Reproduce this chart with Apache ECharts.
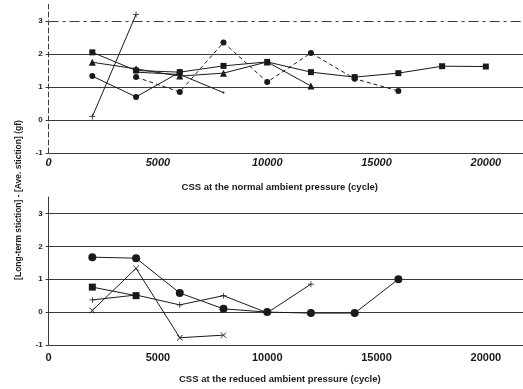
<!DOCTYPE html>
<html>
<head>
<meta charset="utf-8">
<script src="https://cdn.jsdelivr.net/npm/echarts@6/dist/echarts.min.js"></script>
<style>
  html, body {margin: 0; padding: 0; background: #fff;}
  #chart {width: 523px; height: 389px;}
</style>
</head>
<body>
<div id="chart"></div>
<script>
// values, [cycle, stiction diff (gf)]
const normalPlus = [[2000, 0.1], [4000, 3.2]];
const normalSquare = [[2000, 2.05], [4000, 1.5], [6000, 1.45], [8000, 1.64], [10000, 1.76], [12000, 1.45], [14000, 1.3], [16000, 1.42], [18000, 1.63], [20000, 1.62]];
const normalTriangle = [[2000, 1.75], [4000, 1.55], [6000, 1.33], [8000, 1.42], [10000, 1.76], [12000, 1.03]];
const normalCircle = [[2000, 1.33], [4000, 0.7], [6000, 1.45]];
const normalDot = [[4000, 1.45], [6000, 1.38], [8000, 0.83]];
const normalDashed = [[4000, 1.3], [6000, 0.85], [8000, 2.35], [10000, 1.15], [12000, 2.03], [14000, 1.25], [16000, 0.88]];

const reducedDiamond = [[2000, 1.67], [4000, 1.64], [6000, 0.58], [8000, 0.1], [10000, 0], [12000, -0.03], [14000, -0.03], [16000, 1.0]];
const reducedSquare = [[2000, 0.76], [4000, 0.5]];
const reducedPlus = [[2000, 0.37], [4000, 0.52], [6000, 0.22], [8000, 0.5], [10000, -0.02], [12000, 0.85]];
const reducedCross = [[2000, 0.05], [4000, 1.33], [6000, -0.78], [8000, -0.7]];

const xTitles = ["CSS at the normal ambient pressure (cycle)", "CSS at the reduced ambient pressure (cycle)"];
const yTitle = "[Long-term stiction] - [Ave. stiction] (gf)";

const plusPath = "path://M4.4,0h1.2v4.4h4.4v1.2h-4.4v4.4h-1.2v-4.4h-4.4v-1.2h4.4z";
const crossPath = "path://M0.8,0L5,4.2L9.2,0L10,0.8L5.8,5L10,9.2L9.2,10L5,5.8L0.8,10L0,9.2L4.2,5L0,0.8z";
const ink = "#1a1a1a";
const gridInk = "#3a3a3a";

const chart = echarts.init(document.getElementById("chart"));

function xAxisFor(index, italic, margin) {
  return {
    type: "value", gridIndex: index, min: 0, max: 21700, interval: 5000,
    name: xTitles[index], nameLocation: "middle", nameGap: 29,
    nameTextStyle: {fontFamily: "Liberation Sans", fontSize: 9.5, fontWeight: "bold", color: ink, padding: [0, 12, 0, 0]},
    axisLine: {show: true, lineStyle: {color: gridInk, width: 1.2}},
    axisTick: {show: false},
    axisLabel: {
      showMaxLabel: false, margin: margin, formatter: (v) => String(v),
      fontFamily: "Liberation Sans", fontSize: 11, fontWeight: "bold", fontStyle: italic ? "italic" : "normal", color: ink,
    },
    splitLine: {show: false},
  };
}

function yAxisFor(index, dashed) {
  return {
    type: "value", gridIndex: index, min: -1, max: 3.5, interval: 1,
    axisLine: {show: true, onZero: false, lineStyle: {color: gridInk, width: 1, type: dashed ? [5, 3] : "solid"}},
    axisTick: {show: true, length: 3, lineStyle: {color: gridInk}},
    axisLabel: {showMaxLabel: false, margin: 6, fontFamily: "Liberation Sans", fontSize: 8, fontWeight: "bold", color: ink},
    splitLine: {show: true, showMaxLine: false, lineStyle: {color: gridInk, width: 1.2}},
  };
}

function line(name, data, symbol, size, axis, dashed) {
  return {
    name: name, type: "line", data: data, xAxisIndex: axis, yAxisIndex: axis,
    symbol: symbol, symbolSize: size, showSymbol: symbol !== "none",
    lineStyle: {color: ink, width: 1, type: dashed ? [4, 3] : "solid"},
    itemStyle: {color: ink},
    animation: false, z: 5,
  };
}

const option = {
  backgroundColor: "#fff",
  animation: false,
  grid: [
    {left: 48.6, right: 0, top: 4.5, height: 148.5},
    {left: 48.6, right: 0, top: 197, height: 148},
  ],
  xAxis: [xAxisFor(0, true, 4), xAxisFor(1, false, 7)],
  yAxis: [yAxisFor(0, true), yAxisFor(1, false)],
  graphic: [{
    type: "text", x: 19, y: 200, rotation: Math.PI / 2,
    style: {text: yTitle, fontFamily: "Liberation Sans", fontSize: 8.5, fontWeight: "bold", fill: ink, align: "center", verticalAlign: "middle"},
  }],
  series: [
    line("n+", normalPlus, plusPath, 6, 0, false),
    line("nsq", normalSquare, "rect", 6, 0, false),
    line("ntri", normalTriangle, "triangle", 7, 0, false),
    line("ncirc", normalCircle, "circle", 6, 0, false),
    line("ndot", normalDot, "circle", 2, 0, false),
    line("ndash", normalDashed, "circle", 6, 0, true),
    line("rdia", reducedDiamond, "circle", 8, 1, false),
    line("rsq", reducedSquare, "rect", 7, 1, false),
    line("r+", reducedPlus, plusPath, 6, 1, false),
    line("rx", reducedCross, crossPath, 6, 1, false),
  ],
};

// the y = 3 line of the upper panel is dash-dotted in the scan
option.series[0].markLine = {
  silent: true, symbol: "none", label: {show: false},
  lineStyle: {color: "#fff", width: 2, type: "solid"},
  data: [{yAxis: 3}],
};
option.series[1].markLine = {
  silent: true, symbol: "none", label: {show: false},
  lineStyle: {color: gridInk, width: 1.2, type: [10, 4, 3, 4]},
  data: [{yAxis: 3}],
};

chart.setOption(option);
</script>
</body>
</html>
